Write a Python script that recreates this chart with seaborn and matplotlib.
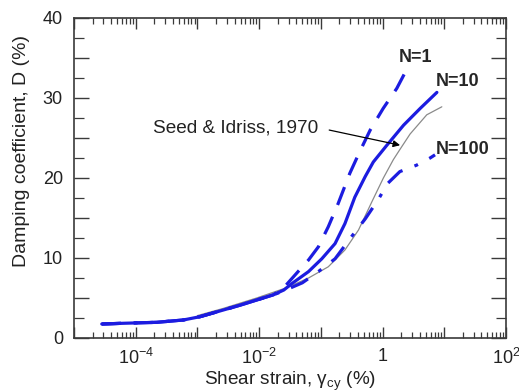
import numpy as np
import pandas as pd
import matplotlib
matplotlib.use("Agg")
import matplotlib.pyplot as plt
import matplotlib.ticker as mticker
import seaborn as sns

# ---- data (strain given as log10 of %) ----
log_strain_n1 = [-4.55, -4.2, -3.66, -3.23, -2.96, -2.58, -2.31, -2.04, -1.77, -1.6, -1.45, -1.3,
                 -1.2, -1.04, -0.88, -0.72, -0.61, -0.53, -0.37, -0.2, 0.01, 0.23, 0.40]
damp_n1 = [1.75, 1.84, 1.96, 2.25, 2.66, 3.5, 4.1, 4.75, 5.4, 6.3, 7.6, 8.9,
           9.75, 11.4, 13.9, 16.8, 19.0, 20.6, 23.3, 26.0, 28.7, 31.2, 33.7]

log_strain_n10 = [-4.55, -4.2, -3.66, -3.23, -2.96, -2.58, -2.31, -2.04, -1.77, -1.6, -1.47, -1.2,
                  -0.985, -0.77, -0.61, -0.45, -0.28, -0.15, 0.07, 0.34, 0.61, 0.88]
damp_n10 = [1.75, 1.84, 1.96, 2.25, 2.66, 3.5, 4.1, 4.75, 5.4, 6.0, 6.8, 8.3,
            9.9, 11.8, 14.3, 17.6, 20.2, 22.0, 24.1, 26.6, 28.7, 30.7]

log_strain_n100 = [-4.55, -4.2, -3.66, -3.23, -2.96, -2.58, -2.31, -2.04, -1.77, -1.6, -1.45, -1.3,
                   -1.04, -0.77, -0.5, -0.28, -0.07, 0.08, 0.28, 0.55, 0.77, 0.85]
damp_n100 = [1.75, 1.84, 1.96, 2.25, 2.66, 3.5, 4.1, 4.75, 5.4, 5.9, 6.4, 6.9,
             8.3, 9.9, 12.7, 14.9, 17.3, 19.3, 20.8, 21.6, 22.5, 22.9]

log_strain_seed = [-3.0, -2.58, -2.04, -1.55, -1.2, -0.88, -0.61, -0.39, -0.175, 0.013, 0.175,
                   0.284, 0.446, 0.716, 0.96]
damp_seed = [2.8, 3.7, 5.0, 6.3, 7.5, 8.9, 11.0, 13.5, 17.0, 20.0, 22.3,
             23.6, 25.5, 27.9, 28.9]

curve_labels = ["N=1", "N=10", "N=100"]
reference_label = "Seed & Idriss, 1970"
x_tick_values = [1e-4, 1e-2, 1, 1e2]
x_tick_labels = ["$10^{-4}$", "$10^{-2}$", "1", "$10^{2}$"]
y_tick_values = [0, 10, 20, 30, 40]

sns.set_style("ticks")
plt.rcParams["font.family"] = ["Liberation Sans", "DejaVu Sans"]
plt.rcParams["mathtext.fontset"] = "custom"
plt.rcParams["mathtext.rm"] = "Liberation Sans"
plt.rcParams["mathtext.it"] = "Liberation Sans:italic"
plt.rcParams["mathtext.bf"] = "Liberation Sans:bold"

fig = plt.figure(figsize=(5.19, 3.92), dpi=100)
ax = fig.add_axes([74 / 519, 54 / 392, 432 / 519, 320 / 392])

blue = "#1c1ce0"


def frame(logs, vals):
    return pd.DataFrame({"x": np.power(10.0, logs), "y": vals})


sns.lineplot(data=frame(log_strain_seed, damp_seed), x="x", y="y", ax=ax, color="#8a8a8a",
             lw=0.9, estimator=None, sort=False)
sns.lineplot(data=frame(log_strain_n100, damp_n100), x="x", y="y", ax=ax, color=blue,
             lw=2.3, estimator=None, sort=False)
ax.lines[-1].set_dashes([6, 4, 1.2, 4])
sns.lineplot(data=frame(log_strain_n1, damp_n1), x="x", y="y", ax=ax, color=blue,
             lw=2.3, estimator=None, sort=False)
ax.lines[-1].set_dashes([6, 4])
sns.lineplot(data=frame(log_strain_n10, damp_n10), x="x", y="y", ax=ax, color=blue,
             lw=2.3, estimator=None, sort=False)
for ln in ax.lines:
    ln.set_solid_joinstyle("round")
    ln.set_dash_joinstyle("round")

ax.set_xscale("log")
ax.set_xlim(1e-5, 1e2)
ax.set_ylim(0, 40)

ax.xaxis.set_major_locator(mticker.LogLocator(base=10, numticks=20))
ax.xaxis.set_minor_locator(mticker.LogLocator(base=10, subs=np.arange(2, 10), numticks=100))
lab_map = dict(zip([round(np.log10(v)) for v in x_tick_values], x_tick_labels))
ax.xaxis.set_major_formatter(mticker.FuncFormatter(lambda v, p: lab_map.get(round(np.log10(v)), "")))
ax.xaxis.set_minor_formatter(mticker.NullFormatter())

ax.yaxis.set_major_locator(mticker.MultipleLocator(5))
ax.yaxis.set_minor_locator(mticker.MultipleLocator(2.5))
ax.yaxis.set_major_formatter(mticker.FuncFormatter(
    lambda v, p: f"{int(v)}" if any(abs(v - t) < 1e-6 for t in y_tick_values) else ""))

spine_c = "#3a3a3a"
for s in ax.spines.values():
    s.set_visible(True)
    s.set_color(spine_c)
    s.set_linewidth(1.2)

ax.tick_params(axis="x", which="major", direction="in", length=8, width=1.0, color=spine_c,
               top=True, bottom=True, labelsize=13, pad=7, labelcolor="#222222")
ax.tick_params(axis="x", which="minor", direction="in", length=4.5, width=0.9, color=spine_c,
               top=True, bottom=True)
ax.tick_params(axis="y", which="major", direction="in", length=11, width=1.0, color=spine_c,
               left=True, right=True, labelsize=13, pad=8, labelcolor="#222222")
ax.tick_params(axis="y", which="minor", direction="in", length=7, width=0.9, color=spine_c,
               left=True, right=True)

ax.set_xlabel("Shear strain, γ$_{\\mathregular{cy}}$ (%)", fontsize=13.7, color="#222222")
ax.xaxis.set_label_coords(0.5, -0.1)
ax.set_ylabel("Damping coefficient, D (%)", fontsize=14, color="#222222")
ax.yaxis.set_label_coords(-0.102, 0.584)

ax.text(10 ** 0.527, 35.0, curve_labels[0], fontsize=13, fontweight="bold", ha="center", va="center")
ax.text(10 ** 1.22, 32.0, curve_labels[1], fontsize=13, fontweight="bold", ha="center", va="center")
ax.text(10 ** 1.29, 23.6, curve_labels[2], fontsize=13, fontweight="bold", ha="center", va="center")

ax.annotate(reference_label, xy=(10 ** 0.284, 24.1), xytext=(10 ** -1.05, 26.3),
            ha="right", va="center", fontsize=13.7, color="#222222",
            arrowprops=dict(arrowstyle="-|>", color="black", lw=0.9, shrinkA=6, shrinkB=0,
                            mutation_scale=10, relpos=(1, 0.5)))

fig.savefig("out.png", dpi=100)
